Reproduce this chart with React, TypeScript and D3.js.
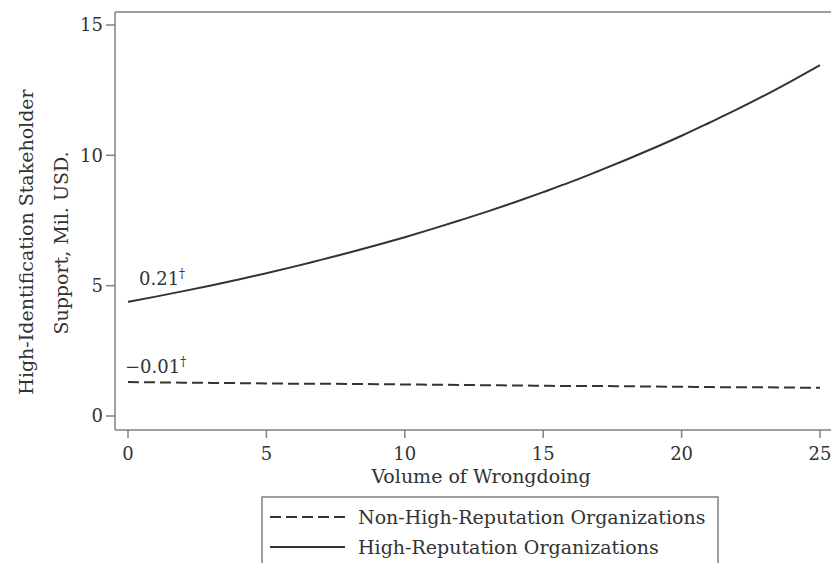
import React from "react";
import * as d3 from "d3";

const volume = [0,1,2,3,4,5,6,7,8,9,10,11,12,13,14,15,16,17,18,19,20,21,22,23,24,25];
const highRep = [4.38,4.58,4.79,5.01,5.24,5.48,5.73,6.0,6.27,6.56,6.86,7.18,7.51,7.85,8.21,8.59,8.98,9.4,9.83,10.28,10.75,11.25,11.76,12.3,12.87,13.46];
const nonHighRep = [1.3,1.29,1.28,1.27,1.26,1.25,1.24,1.24,1.23,1.22,1.21,1.2,1.19,1.18,1.17,1.16,1.15,1.15,1.14,1.13,1.12,1.11,1.1,1.1,1.09,1.08];
const xTicks = [0,5,10,15,20,25];
const yTicks = [0,5,10,15];
const seriesLabels = ["Non-High-Reputation Organizations", "High-Reputation Organizations"];
const annotations = ["0.21", "\u22120.01"];

const W = 831, H = 563;
const FONT = "'DejaVu Serif', serif";
const INK = "#333";
const AXIS = "#808080";

export default function App() {
  const x = d3.scaleLinear().domain([0, 25]).range([128, 820]);
  const y = d3.scaleLinear().domain([0, 15]).range([416, 25]);
  const line = d3.line<number>().x((_, i) => x(volume[i])).y((d) => y(d)).curve(d3.curveMonotoneX);
  const plotLeft = 115, plotTop = 12, plotBottom = 430;

  return (
    <svg width={W} height={H} style={{ position: "absolute", left: 0, top: 0, background: "#fff" }} fontFamily={FONT}>
      <rect x={0} y={0} width={W} height={H} fill="#fff" />
      {/* frame */}
      <line x1={plotLeft} x2={W + 5} y1={plotTop} y2={plotTop} stroke={AXIS} strokeWidth={1.5} />
      <line x1={plotLeft} x2={W + 5} y1={plotBottom} y2={plotBottom} stroke={AXIS} strokeWidth={1.5} />
      <line x1={plotLeft} x2={plotLeft} y1={plotTop} y2={plotBottom} stroke={AXIS} strokeWidth={1.5} />
      {/* y ticks */}
      {yTicks.map((t) => (
        <g key={"y" + t}>
          <line x1={plotLeft - 9} x2={plotLeft} y1={y(t)} y2={y(t)} stroke={AXIS} strokeWidth={1.5} />
          <text x={plotLeft - 12} y={y(t)} dy="0.35em" textAnchor="end" fontSize={18} fill={INK}>{t}</text>
        </g>
      ))}
      {/* x ticks */}
      {xTicks.map((t) => (
        <g key={"x" + t}>
          <line x1={x(t)} x2={x(t)} y1={plotBottom} y2={plotBottom + 8} stroke={AXIS} strokeWidth={1.5} />
          <text x={x(t)} y={460} textAnchor="middle" fontSize={18} fill={INK}>{t}</text>
        </g>
      ))}
      <text x={481} y={483} textAnchor="middle" fontSize={19} fill={INK}>Volume of Wrongdoing</text>
      <g transform="translate(33,242) rotate(-90)">
        <text x={0} y={0} textAnchor="middle" fontSize={19} fill={INK}>High-Identification Stakeholder</text>
      </g>
      <g transform="translate(68,243) rotate(-90)">
        <text x={0} y={0} textAnchor="middle" fontSize={19} fill={INK}>Support, Mil. USD.</text>
      </g>
      {/* series */}
      <path d={line(nonHighRep) || ""} fill="none" stroke={INK} strokeWidth={2} strokeDasharray="11,5" />
      <path d={line(highRep) || ""} fill="none" stroke={INK} strokeWidth={2} />
      {/* annotations */}
      <text x={139} y={285} fontSize={18} fill={INK}>{annotations[0]}<tspan dy={-7} fontSize={12}>†</tspan></text>
      <text x={125} y={373} fontSize={18} fill={INK}>{annotations[1]}<tspan dy={-7} fontSize={12}>†</tspan></text>
      {/* legend */}
      <rect x={262} y={497} width={456} height={90} fill="none" stroke={AXIS} strokeWidth={1.5} />
      <line x1={270} x2={345} y1={517} y2={517} stroke={INK} strokeWidth={2} strokeDasharray="11,5" />
      <line x1={270} x2={345} y1={547} y2={547} stroke={INK} strokeWidth={2} />
      <text x={358} y={524} fontSize={19} fill={INK}>{seriesLabels[0]}</text>
      <text x={358} y={554} fontSize={19} fill={INK}>{seriesLabels[1]}</text>
    </svg>
  );
}
